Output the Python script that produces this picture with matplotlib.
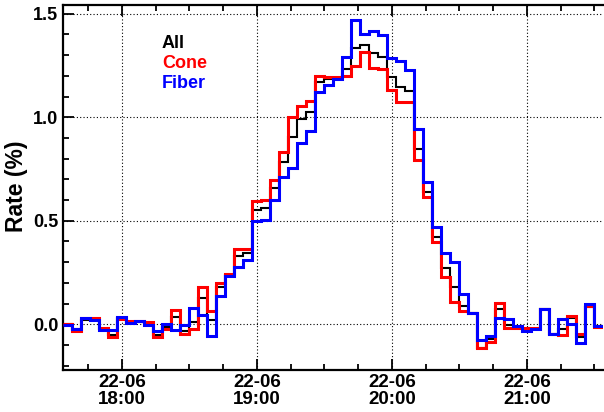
import matplotlib
matplotlib.use("Agg")
import matplotlib.pyplot as plt
import matplotlib.dates as mdates
from matplotlib.ticker import MultipleLocator, FormatStrFormatter
import numpy as np
import pandas as pd

plt.rcParams['font.family'] = ['Liberation Sans', 'DejaVu Sans']
plt.rcParams['font.weight'] = 'bold'

# ---- data ----
start_time = "2016-06-22 17:34"
bin_minutes = 4

rate_all = [0.0, -0.025, 0.022, 0.02, -0.025, -0.05, 0.028, 0.01, 0.012, 0.005,
            -0.05, -0.014, 0.033, -0.032, 0.013, 0.129, 0.021, 0.178, 0.237, 0.328,
            0.345, 0.554, 0.56, 0.66, 0.783, 0.906, 0.99, 1.027, 1.172, 1.185,
            1.19, 1.233, 1.333, 1.347, 1.309, 1.293, 1.193, 1.148, 1.127, 0.845,
            0.639, 0.423, 0.27, 0.179, 0.09, 0.053, -0.114, -0.072, 0.075, -0.002,
            -0.015, -0.025, -0.022, 0.073, -0.045, -0.022, 0.029, -0.063, 0.081, -0.01]

rate_cone = [0.002, -0.032, 0.03, 0.031, -0.018, -0.063, 0.026, 0.016, 0.017, 0.01,
             -0.063, -0.024, 0.069, -0.045, -0.024, 0.18, 0.063, 0.2, 0.243, 0.363,
             0.364, 0.595, 0.6, 0.697, 0.832, 1.0, 1.055, 1.08, 1.2, 1.194,
             1.196, 1.2, 1.25, 1.314, 1.24, 1.233, 1.133, 1.073, 1.073, 0.795,
             0.613, 0.398, 0.227, 0.109, 0.066, 0.053, -0.116, -0.088, 0.103, -0.018,
             -0.02, -0.02, -0.018, 0.073, -0.048, -0.054, 0.041, -0.047, 0.086, -0.014]

rate_fiber = [-0.002, -0.022, 0.031, 0.02, -0.03, -0.03, 0.035, 0.004, 0.016, -0.003,
              -0.032, 0.002, -0.027, -0.002, 0.077, 0.045, -0.058, 0.138, 0.234, 0.275,
              0.311, 0.5, 0.503, 0.6, 0.713, 0.757, 0.874, 0.934, 1.124, 1.156,
              1.185, 1.292, 1.47, 1.404, 1.418, 1.398, 1.285, 1.273, 1.227, 0.943,
              0.686, 0.47, 0.346, 0.3, 0.145, 0.052, -0.078, -0.055, 0.032, 0.024,
              -0.008, -0.031, -0.024, 0.073, -0.045, 0.025, 0.003, -0.09, 0.097, -0.008]

series_names = ["All", "Cone", "Fiber"]
series_colors = ["black", "#ff0000", "#0000ff"]

# ---- figure ----
fig = plt.figure(figsize=(6.04, 4.12), dpi=100)
ax = fig.add_axes([63.3 / 604, 1 - 370 / 412, 540 / 604, (370 - 5) / 412])

edges = pd.date_range(start_time, periods=len(rate_all) + 1, freq=f"{bin_minutes}min")
edges_num = mdates.date2num(edges.to_pydatetime())

widths = [1.5, 2.2, 2.2]
for vals, col, lw, z in zip([rate_all, rate_cone, rate_fiber], series_colors, widths, [3, 4, 5]):
    ax.stairs(vals, edges_num, baseline=None, color=col, linewidth=lw, zorder=z)

ax.set_xlim(edges_num[0], edges_num[-1])
ax.set_ylim(-0.221, 1.5425)

ax.xaxis.set_major_locator(mdates.HourLocator())
ax.xaxis.set_minor_locator(mdates.MinuteLocator(byminute=[15, 30, 45]))
ax.xaxis.set_major_formatter(mdates.DateFormatter("%d-%m\n%H:%M"))
ax.yaxis.set_major_locator(MultipleLocator(0.5))
ax.yaxis.set_minor_locator(MultipleLocator(0.1))
ax.yaxis.set_major_formatter(FormatStrFormatter("%.1f"))

ax.grid(True, which='major', color='black', linestyle=(0, (1, 2)), linewidth=0.8, zorder=1)

ax.tick_params(which='both', direction='in', top=True, right=False, width=1.3, color='black')
ax.tick_params(which='major', length=8)
ax.tick_params(which='minor', length=4.5)
ax.tick_params(axis='x', which='major', labelsize=13.5, pad=3)
ax.tick_params(axis='y', which='major', labelsize=13, pad=3.5)
for lab in ax.get_xticklabels():
    lab.set_fontweight('bold')
    lab.set_linespacing(0.95)
for lab in ax.get_yticklabels():
    lab.set_fontweight('bold')

for side in ['left', 'bottom', 'top']:
    ax.spines[side].set_linewidth(1.6)
ax.spines['right'].set_visible(False)

ax.set_ylabel("Rate (%)", fontsize=16.5, fontweight='bold')
ax.yaxis.set_label_coords((28.5 - 63.3) / 540, 1 - (186 - 5) / 365)

for name, col, ty in zip(series_names, series_colors, [43, 63.5, 83]):
    ax.text((162 - 63.3) / 540, 1 - (ty - 5) / 365, name, color=col, fontsize=13,
            fontweight='bold', transform=ax.transAxes, va='center', ha='left')

fig.savefig("out.png", dpi=100)
